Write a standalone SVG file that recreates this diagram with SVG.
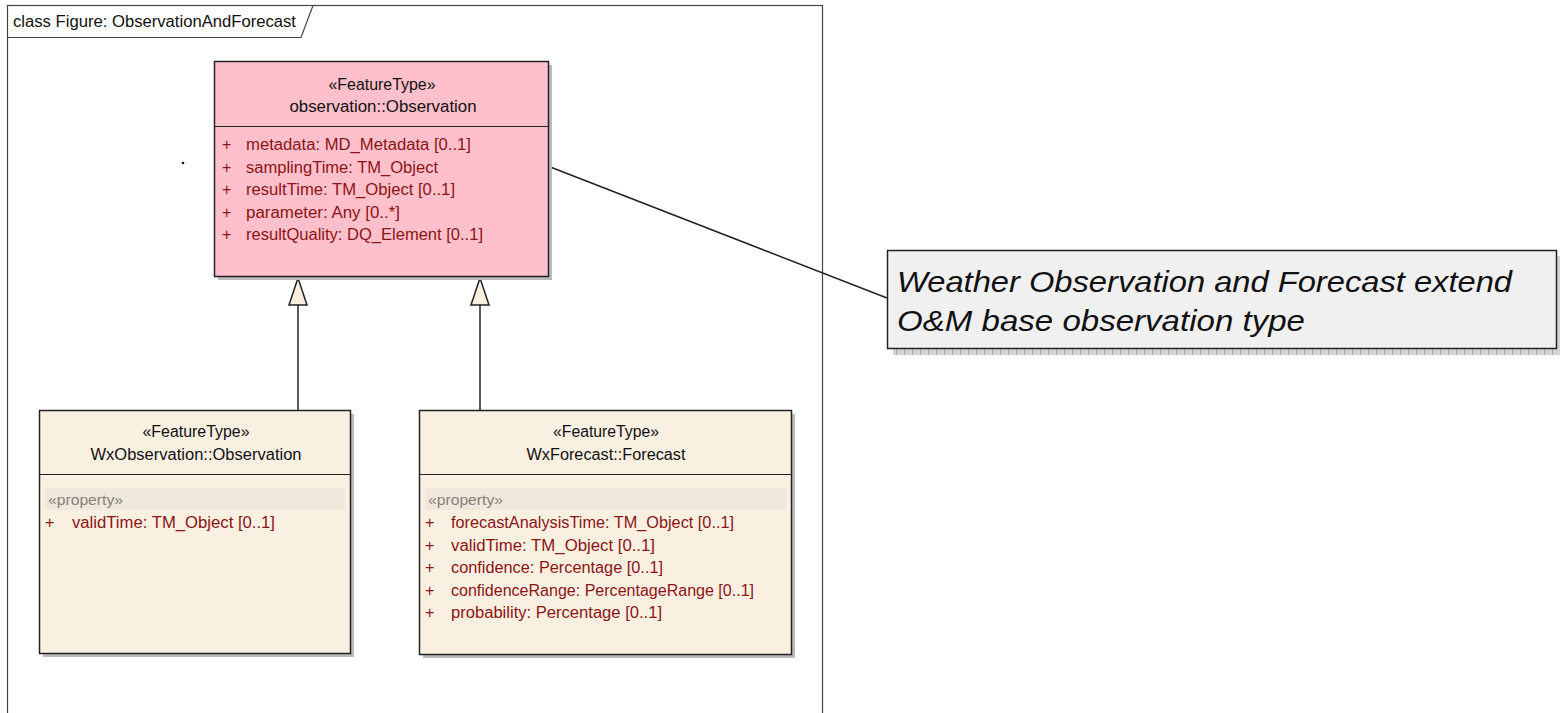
<svg xmlns="http://www.w3.org/2000/svg" width="1560" height="713" viewBox="0 0 1560 713">
  <style>
    .frame { fill: #ffffff; stroke: #444444; stroke-width: 1.2; }
    .box { stroke: #222222; stroke-width: 1.5; }
    .pink { fill: #ffc0cb; }
    .linen { fill: #faf0e2; }
    .shadow { fill: #bbbbbb; }
    .div { stroke: #222222; stroke-width: 1.2; }
    .hdr { font-family: "Liberation Sans", Arial, sans-serif; font-size: 16px; fill: #111111; text-anchor: middle; }
    .attr { font-family: "Liberation Sans", Arial, sans-serif; font-size: 16px; fill: #8b1414; }
    .stereo { font-family: "Liberation Sans", Arial, sans-serif; font-size: 15px; fill: #888078; }
    .band { fill: #f0e8dc; }
    .conn { stroke: #222222; stroke-width: 1.5; fill: none; }
    .head { fill: #faf0e2; stroke: #222222; stroke-width: 1.5; }
    .note { fill: #f0f0f0; stroke: #222222; stroke-width: 1.5; }
    .notetext { font-family: "Liberation Sans", Arial, sans-serif; font-size: 29px; font-style: italic; fill: #111111; }
    .title { font-family: "Liberation Sans", Arial, sans-serif; font-size: 16px; fill: #111111; }
  </style>
  <defs>
    <pattern id="hatch" width="8" height="8" patternUnits="userSpaceOnUse">
      <rect width="8" height="8" fill="#d4d4d4"/>
      <line x1="0.5" y1="0" x2="0.5" y2="8" stroke="#a8a8a8" stroke-width="1"/>
    </pattern>
  </defs>

  <rect width="1560" height="713" fill="#ffffff"/>

  <!-- diagram frame with name tab -->
  <g id="frame">
    <rect class="frame" x="7.5" y="5.5" width="815" height="720"/>
    <path d="M7.5 37.5 H301 L313 5.5" fill="none" stroke="#444444" stroke-width="1.2"/>
    <text class="title" x="13" y="27" textLength="283" lengthAdjust="spacingAndGlyphs">class Figure: ObservationAndForecast</text>
    <circle cx="183" cy="163" r="1.3" fill="#111111"/>
  </g>

  <!-- connectors -->
  <g id="connectors">
    <line class="conn" x1="298" y1="305" x2="298" y2="410"/>
    <polygon class="head" points="298,278 289,305 307,305"/>
    <line class="conn" x1="480" y1="305" x2="480" y2="410"/>
    <polygon class="head" points="480,278 471,305 489,305"/>
    <line class="conn" x1="540" y1="163" x2="887" y2="298"/>
  </g>

  <!-- O&M base observation class -->
  <g id="om-observation">
    <rect class="shadow" x="218" y="65" width="334" height="215"/>
    <rect class="box pink" x="214.5" y="61.5" width="334" height="215"/>
    <line class="div" x1="214.5" y1="126.5" x2="548.5" y2="126.5"/>
    <text class="hdr" x="382" y="90" textLength="107" lengthAdjust="spacingAndGlyphs">«FeatureType»</text>
    <text class="hdr" x="383" y="112" textLength="187" lengthAdjust="spacingAndGlyphs">observation::Observation</text>
    <g class="attr">
      <text x="222" y="150">+</text><text x="246" y="150" textLength="225" lengthAdjust="spacingAndGlyphs">metadata:  MD_Metadata [0..1]</text>
      <text x="222" y="173">+</text><text x="246" y="173" textLength="192" lengthAdjust="spacingAndGlyphs">samplingTime:  TM_Object</text>
      <text x="222" y="195">+</text><text x="246" y="195" textLength="209" lengthAdjust="spacingAndGlyphs">resultTime:  TM_Object [0..1]</text>
      <text x="222" y="218">+</text><text x="246" y="218" textLength="154" lengthAdjust="spacingAndGlyphs">parameter:  Any [0..*]</text>
      <text x="222" y="240">+</text><text x="246" y="240" textLength="237" lengthAdjust="spacingAndGlyphs">resultQuality:  DQ_Element [0..1]</text>
    </g>
  </g>

  <!-- weather observation class -->
  <g id="wx-observation">
    <rect class="shadow" x="43" y="414" width="311" height="243"/>
    <rect class="box linen" x="39.5" y="410.5" width="311" height="243"/>
    <line class="div" x1="39.5" y1="474.5" x2="350.5" y2="474.5"/>
    <text class="hdr" x="196" y="437" textLength="107" lengthAdjust="spacingAndGlyphs">«FeatureType»</text>
    <text class="hdr" x="196" y="460" textLength="211" lengthAdjust="spacingAndGlyphs">WxObservation::Observation</text>
    <rect class="band" x="45" y="488" width="300" height="22"/>
    <text class="stereo" x="48" y="505" textLength="75" lengthAdjust="spacingAndGlyphs">«property»</text>
    <g class="attr">
      <text x="45" y="528">+</text><text x="72" y="528" textLength="203" lengthAdjust="spacingAndGlyphs">validTime:  TM_Object [0..1]</text>
    </g>
  </g>

  <!-- weather forecast class -->
  <g id="wx-forecast">
    <rect class="shadow" x="423" y="414" width="372" height="244"/>
    <rect class="box linen" x="419.5" y="410.5" width="372" height="244"/>
    <line class="div" x1="419.5" y1="474.5" x2="791.5" y2="474.5"/>
    <text class="hdr" x="606" y="437" textLength="106" lengthAdjust="spacingAndGlyphs">«FeatureType»</text>
    <text class="hdr" x="606" y="460" textLength="159" lengthAdjust="spacingAndGlyphs">WxForecast::Forecast</text>
    <rect class="band" x="425" y="488" width="361" height="22"/>
    <text class="stereo" x="428" y="505" textLength="75" lengthAdjust="spacingAndGlyphs">«property»</text>
    <g class="attr">
      <text x="425" y="528">+</text><text x="451" y="528" textLength="283" lengthAdjust="spacingAndGlyphs">forecastAnalysisTime:  TM_Object [0..1]</text>
      <text x="425" y="551">+</text><text x="451" y="551" textLength="204" lengthAdjust="spacingAndGlyphs">validTime:  TM_Object [0..1]</text>
      <text x="425" y="573">+</text><text x="451" y="573" textLength="212" lengthAdjust="spacingAndGlyphs">confidence:  Percentage [0..1]</text>
      <text x="425" y="596">+</text><text x="451" y="596" textLength="303" lengthAdjust="spacingAndGlyphs">confidenceRange:  PercentageRange [0..1]</text>
      <text x="425" y="618">+</text><text x="451" y="618" textLength="211" lengthAdjust="spacingAndGlyphs">probability:  Percentage [0..1]</text>
    </g>
  </g>

  <!-- explanatory note -->
  <g id="note">
    <rect x="893" y="349" width="664" height="6" fill="url(#hatch)"/>
    <rect x="1557" y="256" width="3" height="99" fill="url(#hatch)"/>
    <rect class="note" x="887.5" y="250.5" width="669" height="98"/>
    <text class="notetext" x="897" y="292" textLength="615" lengthAdjust="spacingAndGlyphs">Weather Observation and Forecast extend</text>
    <text class="notetext" x="897" y="331" textLength="408" lengthAdjust="spacingAndGlyphs">O&amp;M base observation type</text>
  </g>
</svg>
